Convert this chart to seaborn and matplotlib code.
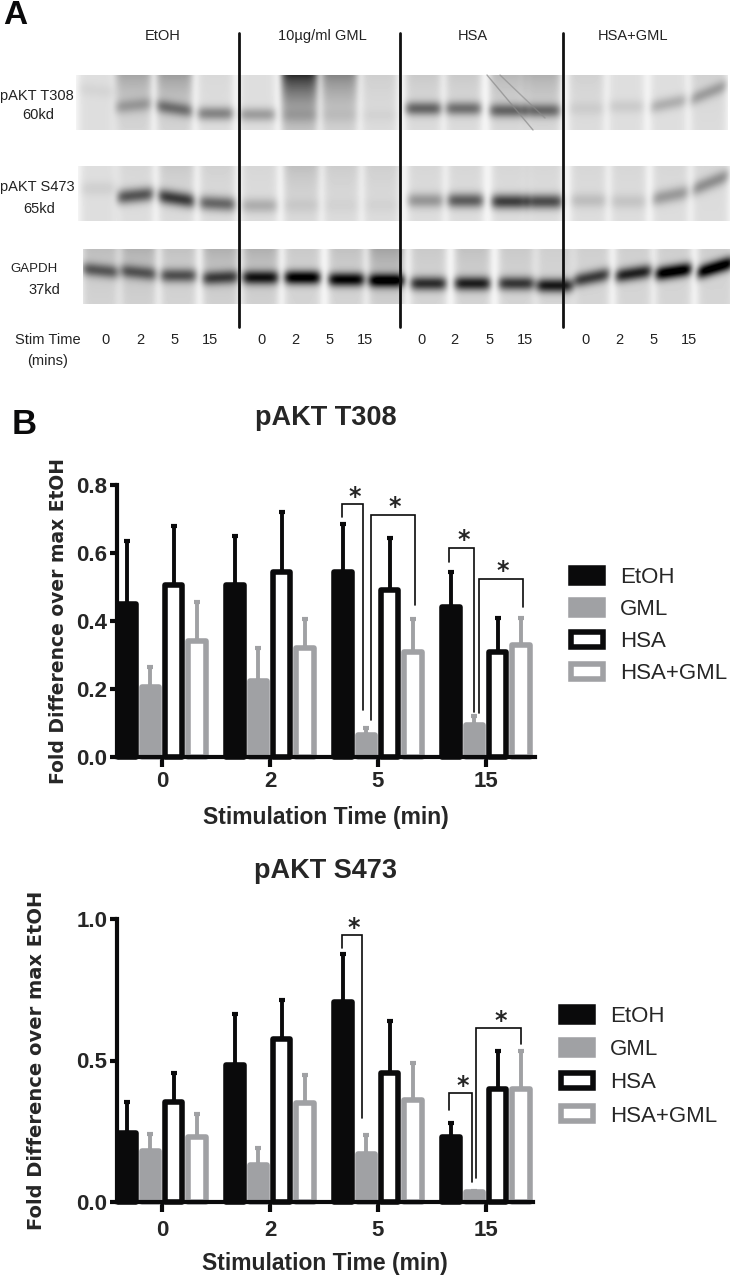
import numpy as np
import pandas as pd
import seaborn as sns
import matplotlib.pyplot as plt
from matplotlib import font_manager
from matplotlib.patches import Patch

W, H = 733, 1275

sns.set_style('white')
names = {f.name for f in font_manager.fontManager.ttflist}
NARROW = 'Liberation Sans Narrow' if 'Liberation Sans Narrow' in names else 'Liberation Sans'
plt.rcParams['font.family'] = [NARROW, 'DejaVu Sans']

# Bar chart values
times = ['0', '2', '5', '15']
groups = ['EtOH', 'GML', 'HSA', 'HSA+GML']

t308_etoh = [0.45, 0.505, 0.545, 0.44]
t308_gml = [0.205, 0.225, 0.065, 0.095]
t308_hsa = [0.505, 0.545, 0.49, 0.31]
t308_both = [0.34, 0.32, 0.31, 0.33]
t308_upper = [[0.635, 0.65, 0.685, 0.545], [0.265, 0.32, 0.085, 0.12],
              [0.68, 0.72, 0.645, 0.41], [0.455, 0.405, 0.405, 0.41]]

s473_etoh = [0.245, 0.485, 0.705, 0.23]
s473_gml = [0.18, 0.13, 0.17, 0.035]
s473_hsa = [0.355, 0.575, 0.455, 0.40]
s473_both = [0.23, 0.35, 0.36, 0.40]
s473_upper = [[0.355, 0.665, 0.875, 0.28], [0.24, 0.19, 0.235, 0.04],
              [0.455, 0.715, 0.64, 0.535], [0.31, 0.45, 0.49, 0.535]]

# Significance brackets: x left, x right, top, left foot, right foot
t308_brackets = [(1.667, 1.861, 0.744, 0.706, 0.138), (1.935, 2.343, 0.712, 0.11, 0.447),
                 (2.657, 2.889, 0.615, 0.574, 0.132), (2.935, 3.343, 0.524, 0.13, 0.44)]
s473_brackets = [(1.667, 1.852, 0.943, 0.897, 0.297), (2.657, 2.87, 0.385, 0.325, 0.07),
                 (2.907, 3.324, 0.615, 0.085, 0.56)]

# Blot strips: lane centres (px), band darkness, band row (px), smear from the top, band tilt
lanes_top = [96, 133, 174, 215, 257, 299, 339, 379, 423, 463, 507, 542, 586, 626, 668, 708]
lanes_gapdh = [100, 138, 178, 220, 260, 302, 346, 386, 428, 472, 516, 554, 591, 633, 673, 715]

t308_dark = [.04, .22, .4, .38, .28, .1, .05, .03, .5, .45, .48, .45, .06, .08, .2, .25]
t308_row = [90, 105, 108, 113, 114, 115, 115, 115, 108, 108, 110, 110, 108, 106, 103, 92]
t308_smear = [0, .22, .25, .02, 0, .7, .35, .06, .08, .08, .15, .18, .05, 0, 0, .05]
s473_dark = [.06, .58, .68, .5, .2, .06, .03, .03, .3, .55, .68, .62, .13, .1, .28, .32]
s473_row = [188, 195, 198, 203, 205, 205, 205, 205, 200, 200, 201, 201, 200, 201, 195, 182]
s473_smear = [0, .03, .08, .05, .03, .12, .07, .06, .03, .03, .03, .03, .03, .03, .03, .03]
gapdh_dark = [.5, .5, .55, .62, .8, .95, .9, .95, .72, .78, .68, .82, .66, .78, 1, 1]
gapdh_row = [270, 272, 275, 277, 277, 277, 279, 280, 283, 283, 283, 285, 277, 273, 271, 267]
gapdh_smear = [.1, .15, .08, .15, .15, .05, .08, .2, .05, .08, .05, .03, .03, .03, .03, .03]
tilt_s473 = [0, -.1, .15, .05, 0, 0, 0, 0, 0, 0, 0, 0, 0, 0, -.2, -.4]
tilt_t308 = [.1, -.1, .15, 0, 0, 0, 0, 0, 0, 0, 0, 0, 0, 0, -.2, -.4]
tilt_gapdh = [.1, .1, 0, -.05, 0, 0, 0, 0, 0, 0, 0, 0, -.2, -.15, -.15, -.3]

lane_ticks = ['0', '2', '5', '15']
tick_px = [[106, 140, 175, 210], [261, 295, 330, 365], [421, 454, 490, 525], [585, 619, 654, 689]]


def blot_image(x0, x1, y0, y1, lanes, dark, row, smear, tilt, sigma, bg):
    xx, yy = np.meshgrid(np.arange(x0, x1), np.arange(y0, y1))
    img = np.full(xx.shape, 0.97)
    for c, d, r, s, t in zip(lanes, dark, row, smear, tilt):
        win = np.exp(-((xx - c) / 18.5) ** 6)
        band = np.exp(-((yy - r - t * (xx - c)) / sigma) ** 2)
        top = np.exp(-(yy - y0) / 30.0)
        img -= win * (0.97 - bg + d * 0.9 * band + s * top)
    return np.clip(img, 0, 1)


def draw_chart(rect, values, upper, brackets, ymax, yticks, title, title_y, leg_xy, star_dy,
               tick_pad, label_pad, ylabel_x, ylabel_size, leg_space):
    # rect is left, right, top, bottom of the axes in pixels
    left, right, top, bottom = rect
    ax = fig.add_axes([left / W, 1 - bottom / H, (right - left) / W, (bottom - top) / H])
    ax.patch.set_alpha(0)
    df = pd.DataFrame({'time': np.tile(times, 4),
                       'group': np.repeat(groups, 4),
                       'value': np.concatenate(values)})
    sns.barplot(data=df, x='time', y='value', hue='group', order=times, hue_order=groups,
                errorbar=None, width=0.86, gap=0.24, legend=False, ax=ax)
    colors = [BLACK, GREY, BLACK, GREY]
    fills = [BLACK, GREY, 'white', 'white']
    for cont, col, fill, ups, vals in zip(ax.containers, colors, fills, upper, values):
        xs = []
        for bar in cont:
            bar.set_facecolor(fill)
            bar.set_edgecolor(col)
            bar.set_linewidth(4)
            bar.set_joinstyle('round')
            bar.set_zorder(3)
            bar.set_clip_on(False)
            xs.append(bar.get_x() + bar.get_width() / 2)
        err = np.array(ups) - np.array(vals)
        ax.errorbar(xs, vals, yerr=[np.zeros(4), err], fmt='none', ecolor=col,
                    elinewidth=2.8, capsize=2.3, capthick=3, zorder=2, clip_on=False)
    ax.set_xlim(-0.417, (right - 162) / 108)
    ax.set_ylim(0, ymax)
    ax.set_yticks(yticks)
    ax.set_yticklabels(['%.1f' % v for v in yticks])
    for s in ['top', 'right']:
        ax.spines[s].set_visible(False)
    for s in ['left', 'bottom']:
        ax.spines[s].set_linewidth(3)
        ax.spines[s].set_color(BLACK)
        ax.spines[s].set_zorder(5)
    ax.tick_params(axis='x', length=7, width=3, color=BLACK, pad=tick_pad, bottom=True)
    ax.tick_params(axis='y', length=5, width=3, color=BLACK, pad=2, left=True)
    for t in ax.get_xticklabels() + ax.get_yticklabels():
        t.set_fontsize(16)
        t.set_fontweight('bold')
    ax.set_xlabel('Stimulation Time (min)', fontsize=16.5, fontweight='bold', labelpad=label_pad)
    ax.set_ylabel('Fold Difference over max EtOH', fontsize=ylabel_size, fontweight='bold',
                  family=['DejaVu Sans'])
    ax.yaxis.set_label_coords((ylabel_x - left) / (right - left), 0.5)
    fig.text(326 / W, 1 - title_y / H, title, fontsize=19.5, fontweight='bold',
             ha='center', va='center')
    # brackets and stars
    for xa, xb, ytop, yl, yr in brackets:
        ax.plot([xa, xa, xb, xb], [yl, ytop, ytop, yr], color=BLACK, lw=1.2,
                solid_joinstyle='miter', zorder=6, clip_on=False)
        ax.text((xa + xb) / 2 + 0.02, ytop + star_dy, '*', fontsize=17, fontweight='bold',
                ha='center', va='center', family=['DejaVu Sans'], zorder=6)
    handles = [Patch(facecolor=f, edgecolor=c, linewidth=4, joinstyle='round', label=g)
               for f, c, g in zip(fills, colors, groups)]
    fig.legend(handles=handles, loc='upper left', bbox_to_anchor=(leg_xy[0] / W, 1 - leg_xy[1] / H),
               frameon=False, fontsize=16, handlelength=1.45, handleheight=0.66,
               handletextpad=0.75, labelspacing=leg_space, borderpad=0, borderaxespad=0)
    return ax


BLACK = '#0a0a0b'
GREY = '#a0a1a4'

fig = plt.figure(figsize=(W / 100, H / 100), dpi=100)

# Panel A drawn on a full-figure axes counted in pixels
bg_ax = fig.add_axes([0, 0, 1, 1])
strips = [(76, 728, 75, 130, lanes_top, t308_dark, t308_row, t308_smear, tilt_t308, 7, .87),
          (78, 730, 166, 221, [v + 2 for v in lanes_top], s473_dark, s473_row, s473_smear, tilt_s473, 7.5, .87),
          (83, 730, 249, 304, lanes_gapdh, gapdh_dark, gapdh_row, gapdh_smear, tilt_gapdh, 7, .84)]
for x0, x1, y0, y1, lanes, dark, row, smear, tilt, sigma, bg in strips:
    img = blot_image(x0, x1, y0, y1, lanes, dark, row, smear, tilt, sigma, bg)
    bg_ax.imshow(img, cmap='gray', vmin=0, vmax=1, extent=(x0, x1, y1, y0), aspect='auto',
                 interpolation='bilinear')
bg_ax.plot([487, 533], [75, 130], color='#8a8a8a', lw=1, alpha=.7)
bg_ax.plot([500, 545], [75, 118], color='#8a8a8a', lw=1, alpha=.6)
bg_ax.set_xlim(0, W)
bg_ax.set_ylim(H, 0)
bg_ax.axis('off')

for x in [239, 400, 563]:
    bg_ax.plot([x, x], [33, 327], color='#111111', lw=2)

A_SIZE = 10.5
for label, x in zip(['EtOH', '10µg/ml GML', 'HSA', 'HSA+GML'], [163, 322, 473, 633]):
    bg_ax.text(x, 36, label, fontsize=A_SIZE, ha='center', va='center', color='#222222')
side = [('pAKT T308', 37, 96, A_SIZE), ('60kd', 38, 115, A_SIZE), ('pAKT S473', 37, 187, A_SIZE),
        ('65kd', 39, 209, A_SIZE), ('GAPDH', 34, 269, 9.5), ('37kd', 44, 290, A_SIZE),
        ('Stim Time', 48, 340, A_SIZE), ('(mins)', 48, 361, A_SIZE)]
for label, x, y, size in side:
    bg_ax.text(x, y, label, fontsize=size, ha='center', va='center', color='#222222')
for xs in tick_px:
    for label, x in zip(lane_ticks, xs):
        bg_ax.text(x, 340, label, fontsize=A_SIZE, ha='center', va='center', color='#222222')
bg_ax.text(15, 16, 'A', fontsize=24, fontweight='bold', ha='center', va='center', color=BLACK)
bg_ax.text(24, 424, 'B', fontsize=25, fontweight='bold', ha='center', va='center', color=BLACK)

draw_chart((117, 535, 485, 757), [t308_etoh, t308_gml, t308_hsa, t308_both], t308_upper,
           t308_brackets, 0.8, [0.0, 0.2, 0.4, 0.6, 0.8], 'pAKT T308', 418, (571, 567), 0.022,
           3, 10, 68, 13.5, 0.5)
draw_chart((117, 533, 919, 1202), [s473_etoh, s473_gml, s473_hsa, s473_both], s473_upper,
           s473_brackets, 1.0, [0.0, 0.5, 1.0], 'pAKT S473', 871, (561, 1006), 0.026,
           6, 8, 46, 14, 0.55)

fig.savefig('out.png', dpi=100)
